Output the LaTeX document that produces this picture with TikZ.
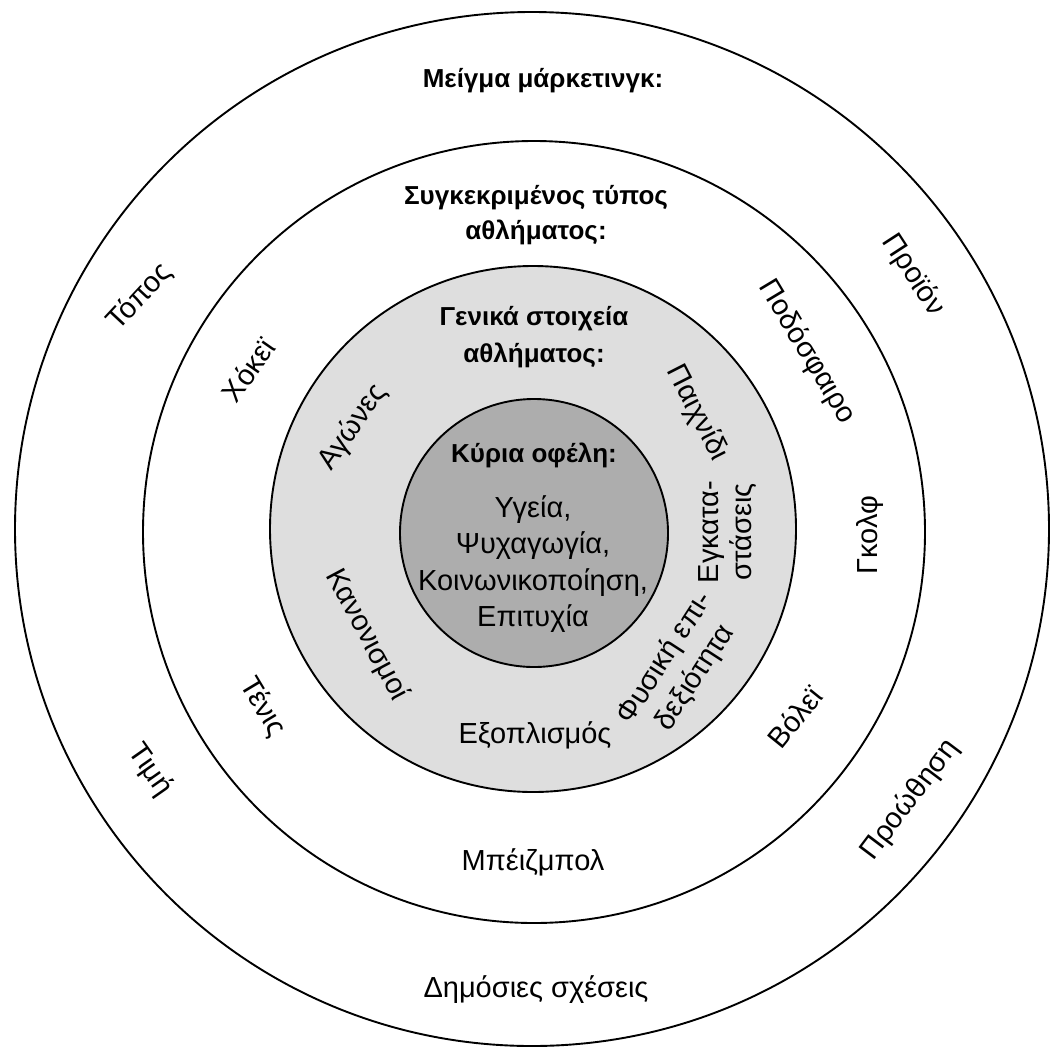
\documentclass[tikz,border=0pt]{standalone}
\usepackage{fontspec}
\setmainfont{Liberation Sans}
\begin{document}
\tikzset{
  ring/.style={circle, draw=black, line width=1.9pt, inner sep=0pt},
  lbl/.style={font=\fontsize{29}{34}\selectfont, inner sep=0pt, align=center},
  head/.style={font=\bfseries\fontsize{26}{35}\selectfont, inner sep=0pt, align=center},
}
\begin{tikzpicture}[x=1pt,y=-1pt]
\useasboundingbox (0,0) rectangle (1051,1047);
% circles
\node[ring, fill=white, minimum size=1034pt] (outer) at (532,529) {};
\node[ring, fill=white, minimum size=782pt] (sport) at (534,532) {};
\node[ring, fill=black!13, minimum size=526pt] (general) at (533,529) {};
\node[ring, fill=black!32, minimum size=268pt] (core) at (534,533) {};
% outer ring: marketing mix
\node[head] (mix) at (543,81) {Μείγμα μάρκετινγκ:};
\node[lbl, rotate=47] (topos) at (140,297) {Τόπος};
\node[lbl, rotate=-57] (proion) at (913,275) {Προϊόν};
\node[lbl, rotate=-55] (timi) at (150,770) {Τιμή};
\node[lbl, rotate=53] (proothisi) at (910,800) {Προώθηση};
\node[lbl] (dimosies) at (536,990) {Δημόσιες σχέσεις};
% second ring: specific sports
\node[head, font=\bfseries\fontsize{26}{35}\selectfont] (specific) at (536,215) {Συγκεκριμένος τύπος\\αθλήματος:};
\node[lbl, rotate=55] (hockey) at (248,370) {Χόκεϊ};
\node[lbl, rotate=-59] (football) at (807,352) {Ποδόσφαιρο};
\node[lbl, rotate=90] (golf) at (870,535) {Γκολφ};
\node[lbl, rotate=-59] (tennis) at (263,707) {Τένις};
\node[lbl, rotate=51] (volley) at (795,717) {Βόλεϊ};
\node[lbl] (baseball) at (533,862) {Μπέιζμπολ};
% third ring: general elements
\node[head, font=\bfseries\fontsize{26}{37}\selectfont] (gentitle) at (534,337) {Γενικά στοιχεία\\αθλήματος:};
\node[lbl, rotate=55] (agones) at (353,427) {Αγώνες};
\node[lbl, rotate=-63] (paixnidi) at (697,413) {Παιχνίδι};
\node[lbl, rotate=-62] (kanonismoi) at (367,635) {Κανονισμοί};
\node[lbl, rotate=90, font=\fontsize{29}{33}\selectfont] (egkatastaseis) at (728,532) {Εγκατα-\\στάσεις};
\node[lbl, rotate=57, font=\fontsize{29}{36}\selectfont] (fysiki) at (680,668) {Φυσική επι-\\δεξιότητα};
\node[lbl] (eksoplismos) at (535,735) {Εξοπλισμός};
% core
\node[head] (benefits) at (534,455) {Κύρια οφέλη:};
\node[lbl, font=\fontsize{29}{36.5}\selectfont] (benlist) at (533,564) {Υγεία,\\Ψυχαγωγία,\\Κοινωνικοποίηση,\\Επιτυχία};
\end{tikzpicture}
\end{document}
